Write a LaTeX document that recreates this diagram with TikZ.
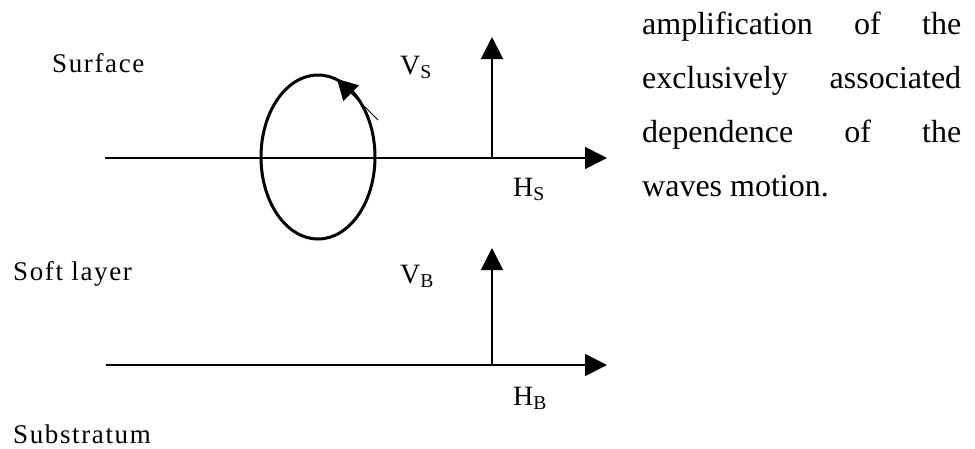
\documentclass[tikz,border=0pt]{standalone}
\usepackage{fontspec}
\setmainfont{Liberation Serif}
\newfontfamily\layerfont[LetterSpace=6]{Liberation Serif}
\usetikzlibrary{arrows.meta}

\begin{document}
\begin{tikzpicture}[
  x=1pt,y=-1pt,line join=miter,
  axis/.style={black,line width=1.6pt,-{Triangle[length=22pt,width=22pt]}},
  orbit/.style={black,line width=3pt},
  spin/.style={black,line width=0.8pt,-{Triangle[length=20pt,width=22pt]}},
  layer/.style={anchor=base west,inner sep=0pt,font=\layerfont\fontsize{27}{30}\selectfont},
  comp/.style={anchor=base west,inner sep=0pt,font=\fontsize{28}{30}\selectfont},
  prose/.style={anchor=base west,inner sep=0pt,font=\fontsize{32}{40}\selectfont}
]
  \fill[white] (0,0) rectangle (975,448);
  \useasboundingbox (0,0) rectangle (975,448);

  % Surface axes with the particle orbit.
  \coordinate (s0) at (105,158);
  \coordinate (sE) at (607,158);
  \coordinate (sO) at (492,158);
  \coordinate (sV) at (492,37);
  \draw[axis] (s0) -- (sE);
  \draw[axis] (sO) -- (sV);
  \draw[orbit] (318,157) ellipse [x radius=57,y radius=82];
  \coordinate (spinA) at (378,120);
  \coordinate (spinB) at (337,79);
  \draw[spin] (spinA) -- (spinB);

  % Base axes of the soft layer.
  \coordinate (b0) at (106,365);
  \coordinate (bE) at (607,365);
  \coordinate (bO) at (492,365);
  \coordinate (bV) at (492,248);
  \draw[axis] (b0) -- (bE);
  \draw[axis] (bO) -- (bV);

  % Labels.
  \node[layer] (surface) at (52,72) {Surface};
  \node[layer] (soft) at (13,280) {Soft layer};
  \node[layer] (substratum) at (13,443) {Substratum};
  \node[comp] (vs) at (400,74) {V\textsubscript{S}};
  \node[comp] (hs) at (513,196) {H\textsubscript{S}};
  \node[comp] (vb) at (400,283) {V\textsubscript{B}};
  \node[comp] (hb) at (513,405) {H\textsubscript{B}};

  % Justified text beside the figure.
  \foreach \txt [count=\i from 0] in {
      {\hbox to 319pt{amplification\hfill of\hfill the}},
      {\hbox to 319pt{exclusively\hfill associated}},
      {\hbox to 319pt{dependence\hfill of\hfill the}},
      {waves motion.}} {
    \node[prose] (line\i) at (642,{34+54*\i}) {\txt};
  }
\end{tikzpicture}
\end{document}
